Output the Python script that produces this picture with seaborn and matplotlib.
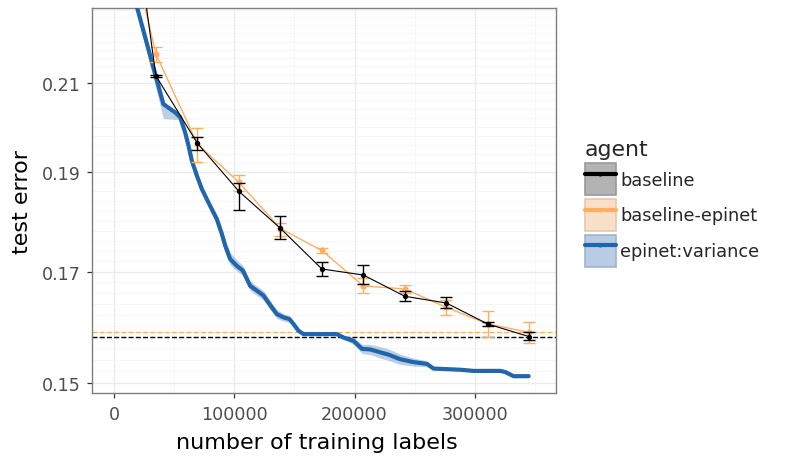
import numpy as np
import pandas as pd
import matplotlib
matplotlib.use("Agg")
import matplotlib.pyplot as plt
import seaborn as sns
from matplotlib.patches import Rectangle
from matplotlib.lines import Line2D
from matplotlib.legend_handler import HandlerTuple
from matplotlib.ticker import FixedLocator, NullFormatter, FixedFormatter

# ---------------- data ----------------
agents = ["baseline", "baseline-epinet", "epinet:variance"]
agent_colors = ["#000000", "#fdae61", "#2166ac"]
key_fills = ["#b3b3b3", "#f8dfc8", "#b9cce3"]
key_edges = ["#999999", "#e6c7aa", "#9fb4cf"]

point_labels = [0, 34560, 69120, 103680, 138240, 172800, 207360, 241920, 276480, 311040, 345600]

baseline_err = [0.2968, 0.2117, 0.1963, 0.1860, 0.17845, 0.1705, 0.16935, 0.16536, 0.16412, 0.1603, 0.15804]
baseline_lo = [0.2968, 0.2114, 0.1948, 0.1822, 0.17632, 0.16911, 0.16766, 0.16444, 0.16315, 0.15986, 0.15740]
baseline_hi = [0.2968, 0.2120, 0.1976, 0.1877, 0.18086, 0.17178, 0.17132, 0.16629, 0.16517, 0.16075, 0.15893]

epinet_err = [0.2648, 0.21694, 0.19613, 0.18789, 0.17841, 0.17407, 0.1673, 0.16672, 0.16333, 0.1603, 0.15882]
epinet_lo = [0.2648, 0.21493, 0.19227, 0.18613, 0.17691, 0.17358, 0.16591, 0.16597, 0.16193, 0.15793, 0.15688]
epinet_hi = [0.2648, 0.21857, 0.19967, 0.18949, 0.17945, 0.17449, 0.16873, 0.16747, 0.16473, 0.16271, 0.16061]

variance_labels = [0, 40800, 50600, 54800, 58900, 61700, 64500, 68700, 72800, 78300,
                   85300, 89500, 92300, 96400, 102000, 107000, 113100, 118700, 124200, 131200,
                   135300, 140800, 145800, 149200, 153300, 157500, 185300, 190800, 199200, 206200,
                   213100, 221400, 228300, 238100, 249200, 260300, 265800, 277000, 288100, 299200,
                   321400, 325600, 332500, 345000]
variance_err = [0.2509, 0.2051, 0.2032, 0.2021, 0.1987, 0.1958, 0.1925, 0.1893, 0.1865, 0.1837,
                0.1803, 0.1773, 0.1750, 0.1724, 0.1711, 0.1702, 0.1673, 0.1664, 0.1655, 0.1633,
                0.1621, 0.1615, 0.1612, 0.1603, 0.1591, 0.1585, 0.1585, 0.1579, 0.1573, 0.1559,
                0.1558, 0.1553, 0.1549, 0.1541, 0.1536, 0.1533, 0.1525, 0.1524, 0.1523, 0.1521,
                0.1521, 0.1519, 0.1512, 0.1512]
variance_gap_lo = [0, 0.0033, 0.0016, 0.0004, 0.0004, 0.0004, 0.0004, 0.0004, 0.0005, 0.0006,
                   0.0008, 0.0010, 0.0011, 0.0011, 0.0010, 0.0009, 0.0009, 0.0009, 0.0009, 0.0008,
                   0.0008, 0.0007, 0.0006, 0.0004, 0.0002, 0.0002, 0.0002, 0.0004, 0.0006, 0.0008,
                   0.0009, 0.0010, 0.0010, 0.0009, 0.0007, 0.0005, 0.0003, 0.0002, 0.0002, 0.0002,
                   0.0002, 0.0002, 0.0002, 0.0002]
variance_gap_hi = [0, 0.0005, 0.0004, 0.0004, 0.0004, 0.0004, 0.0004, 0.0004, 0.0005, 0.0006,
                   0.0009, 0.0012, 0.0013, 0.0013, 0.0011, 0.0010, 0.0009, 0.0009, 0.0009, 0.0008,
                   0.0008, 0.0007, 0.0006, 0.0004, 0.0002, 0.0002, 0.0002, 0.0004, 0.0006, 0.0008,
                   0.0009, 0.0010, 0.0010, 0.0009, 0.0007, 0.0005, 0.0003, 0.0002, 0.0002, 0.0002,
                   0.0002, 0.0002, 0.0002, 0.0002]

x_ticks = [0, 100000, 200000, 300000]
x_minor = [50000, 150000, 250000, 350000]
y_ticks = [0.15, 0.17, 0.19, 0.21]
y_tick_labels = ["0.15", "0.17", "0.19", "0.21"]
y_minor = [round(0.148 + 0.002 * i, 3) for i in range(41)]
x_limits = (-18900, 367800)
y_limits = (0.14833, 0.22834)

# ---------------- style ----------------
sns.set_theme(style="white")
plt.rcParams["font.family"] = ["DejaVu Sans"]
plt.rcParams["lines.scale_dashes"] = False

fig = plt.figure(figsize=(7.88, 4.64), dpi=100)
ax = fig.add_axes([91.7 / 788, 1 - 394.3 / 464, (556 - 91.7) / 788, (394.3 - 9.3) / 464])
ax.set_facecolor("white")
ax.set_yscale("log")
ax.set_xlim(*x_limits)
ax.set_ylim(*y_limits)

ax.yaxis.set_major_locator(FixedLocator(y_ticks))
ax.yaxis.set_major_formatter(FixedFormatter(y_tick_labels))
ax.yaxis.set_minor_locator(FixedLocator(y_minor))
ax.yaxis.set_minor_formatter(NullFormatter())
ax.xaxis.set_major_locator(FixedLocator(x_ticks))
ax.xaxis.set_minor_locator(FixedLocator(x_minor))
ax.set_xticklabels([str(v) for v in x_ticks])

ax.grid(which="major", color="#ebebeb", lw=1.0, zorder=0)
ax.grid(which="minor", color="#f5f5f5", lw=0.6, zorder=0)
ax.set_axisbelow(True)
for s in ax.spines.values():
    s.set_color("#7f7f7f")
    s.set_linewidth(1.0)
ax.tick_params(which="major", length=3.6, width=0.9, color="#333333",
               labelsize=12.6, labelcolor="#4d4d4d", bottom=True, left=True)
ax.tick_params(axis="y", which="major", pad=4.2)
ax.tick_params(axis="x", which="major", pad=4.6)
ax.tick_params(which="minor", length=0, bottom=False, left=False)

# ---------------- data frames ----------------
df_points = pd.DataFrame({
    "labels": point_labels * 2,
    "error": baseline_err + epinet_err,
    "lo": baseline_lo + epinet_lo,
    "hi": baseline_hi + epinet_hi,
    "agent": [agents[0]] * len(point_labels) + [agents[1]] * len(point_labels),
})
df_var = pd.DataFrame({
    "labels": variance_labels,
    "error": variance_err,
    "lo": np.array(variance_err) - np.array(variance_gap_lo),
    "hi": np.array(variance_err) + np.array(variance_gap_hi),
    "agent": agents[2],
})

# dashed reference lines at final values
ax.axhline(baseline_err[-1], color=agent_colors[0], lw=1.0, dashes=(3.6, 1.6), zorder=2)
ax.axhline(epinet_err[-1], color=agent_colors[1], lw=0.9, dashes=(3.6, 1.6), zorder=2)

# variance ribbon + line
ax.fill_between(df_var["labels"], df_var["lo"], df_var["hi"], color=agent_colors[2],
                alpha=0.3, lw=0, zorder=3)
sns.lineplot(data=df_var, x="labels", y="error", color=agent_colors[2], lw=3.0,
             estimator=None, sort=False, ax=ax, legend=False, zorder=4)

# baseline and baseline-epinet
for name, col, lw, ms in [(agents[1], agent_colors[1], 1.0, 4.4), (agents[0], agent_colors[0], 0.8, 3.8)]:
    sub = df_points[df_points["agent"] == name]
    sns.lineplot(data=sub, x="labels", y="error", color=col, lw=lw, marker="o",
                 markersize=ms, markeredgewidth=0, estimator=None, sort=False,
                 ax=ax, legend=False, zorder=5)
    ax.errorbar(sub["labels"], sub["error"],
                yerr=[sub["error"] - sub["lo"], sub["hi"] - sub["error"]],
                fmt="none", ecolor=col, elinewidth=1.0, capsize=4.3, capthick=1.0, zorder=5)

ax.set_xlim(*x_limits)
ax.set_ylim(*y_limits)
ax.set_xlabel("number of training labels", fontsize=16, color="black", labelpad=7)
ax.xaxis.label.set_x(0.485)
ax.set_ylabel("test error", fontsize=16, color="black", labelpad=7.5)

# ---------------- legend ----------------
handles = []
for c, f, e in zip(agent_colors, key_fills, key_edges):
    patch = Rectangle((0, 0), 1, 1, facecolor=f, edgecolor=e, lw=1.2)
    line = Line2D([], [], color=c, lw=3.0, marker="o", markersize=3, markeredgewidth=0)
    handles.append((patch, line))
leg = ax.legend(handles, agents, handler_map={tuple: HandlerTuple(ndivide=1, pad=0)},
                title="agent", loc="upper left", bbox_to_anchor=(585 / 788, 1 - 140.5 / 464),
                bbox_transform=fig.transFigure, frameon=False, fontsize=12.8,
                title_fontsize=15.8, handlelength=1.72, handleheight=2.43,
                labelspacing=0.19, handletextpad=0.27, borderpad=0, borderaxespad=0,
                numpoints=1, alignment="left")

fig.savefig("out.png", dpi=100)
